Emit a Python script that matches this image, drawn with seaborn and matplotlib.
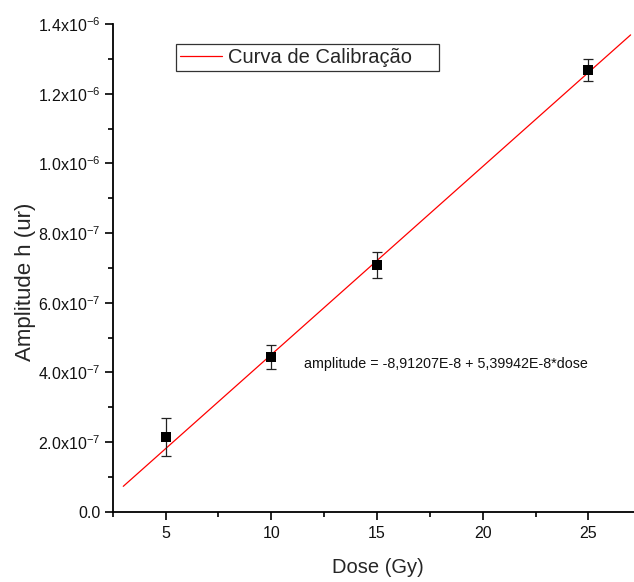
import numpy as np
import pandas as pd
import matplotlib
matplotlib.use("Agg")
import matplotlib.pyplot as plt
from matplotlib.ticker import MultipleLocator, FuncFormatter
import seaborn as sns

# Measured amplitudes per dose
dose = [5, 10, 15, 25]
amplitude = [2.135e-7, 4.43e-7, 7.08e-7, 1.268e-6]
amplitude_err = [5.45e-8, 3.45e-8, 3.8e-8, 3.2e-8]

# Linear calibration fit
intercept = -8.91207e-8
slope = 5.39942e-8
fit_range = [3, 27]

y_ticks = [0.0, 2e-7, 4e-7, 6e-7, 8e-7, 1.0e-6, 1.2e-6, 1.4e-6]

sns.set_style("ticks")
plt.rcParams["font.family"] = ["Liberation Sans", "DejaVu Sans"]
plt.rcParams["mathtext.default"] = "regular"

fig = plt.figure(figsize=(6.34, 5.82), dpi=100)
ax = fig.add_axes([112.7 / 634, 70.3 / 582, 528.5 / 634, 487.7 / 582])

fit_x = np.array(fit_range, dtype=float)
fit_df = pd.DataFrame({"dose": fit_x, "amp": intercept + slope * fit_x})
sns.lineplot(data=fit_df, x="dose", y="amp", color="red", linewidth=0.9,
             ax=ax, label="Curva de Calibração")

ax.errorbar(dose, amplitude, yerr=amplitude_err, fmt="none", ecolor="#222222",
            elinewidth=0.9, capsize=3.3, capthick=0.9, zorder=3)
pts = pd.DataFrame({"dose": dose, "amp": amplitude})
sns.scatterplot(data=pts, x="dose", y="amp", marker="s", s=45, color="black",
                edgecolor="black", linewidth=0, ax=ax, zorder=4)

ax.set_xlim(2.5, 27.5)
ax.set_ylim(0, 1.4e-6)
ax.xaxis.set_major_locator(MultipleLocator(5))
ax.xaxis.set_minor_locator(MultipleLocator(2.5))
ax.set_yticks(y_ticks)
ax.yaxis.set_minor_locator(MultipleLocator(1e-7))


def sci_label(v, pos):
    if abs(v) < 1e-12:
        return "0.0"
    exp = int(np.floor(np.log10(abs(v)) + 1e-9))
    mant = v / 10 ** exp
    return f"{mant:.1f}x10$^{{{exp}}}$"


ax.yaxis.set_major_formatter(FuncFormatter(sci_label))

for side in ("top", "right"):
    ax.spines[side].set_visible(False)
for side in ("left", "bottom"):
    ax.spines[side].set_linewidth(1.3)
    ax.spines[side].set_color("black")

ax.tick_params(which="major", length=6, width=1.2, color="black",
               labelsize=11.5, labelcolor="#111111", direction="out")
ax.tick_params(which="minor", length=3.5, width=1.2, color="black", direction="out")
ax.tick_params(axis="x", which="major", pad=4)
ax.tick_params(axis="y", which="major", pad=3)

ax.set_xlabel("Dose (Gy)", fontsize=14.5)
ax.xaxis.set_label_coords((377.5 - 112.7) / 528.5, (511.7 - 558) / 487.7)
ax.set_ylabel("Amplitude h (ur)", fontsize=16)
ax.yaxis.set_label_coords((36 - 112.7) / 528.5, (511.7 - 281.7) / 487.7)

ax.text((304 - 112.7) / 528.5, (511.7 - 364) / 487.7,
        "amplitude = -8,91207E-8 + 5,39942E-8*dose", fontsize=10.3,
        transform=ax.transAxes, va="center", ha="left", color="#111111")

leg = ax.legend(loc="upper left", bbox_to_anchor=(0.119, 0.5, 0.4976, 0.459),
                mode="expand", frameon=True, fancybox=False, fontsize=14.5,
                handlelength=2.1, borderpad=0.2, handletextpad=0.3,
                borderaxespad=0)
leg.get_frame().set_edgecolor("black")
leg.get_frame().set_linewidth(0.9)

fig.savefig("out.png", dpi=100)
